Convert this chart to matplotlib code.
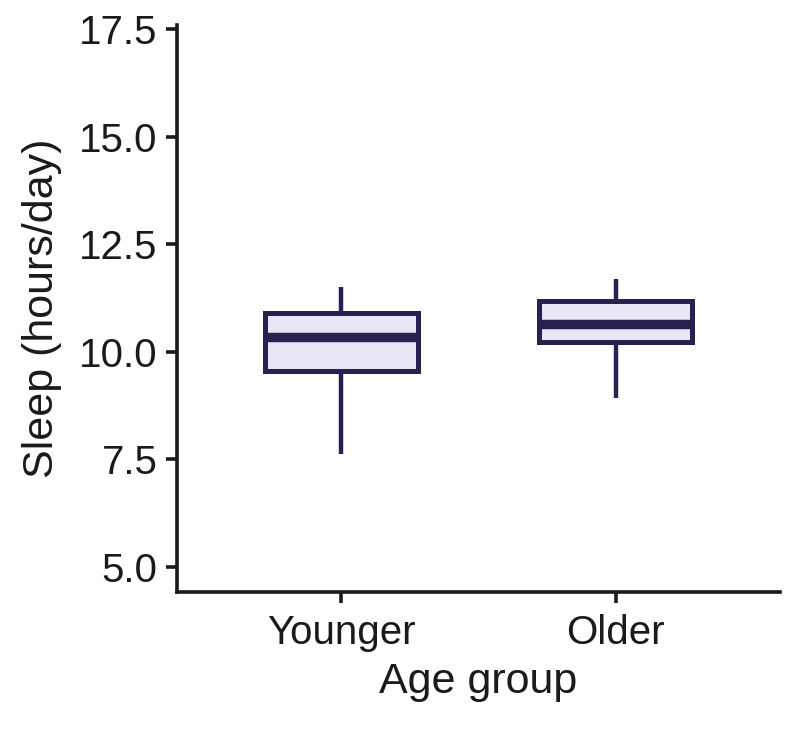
import matplotlib
matplotlib.use("Agg")
import matplotlib.pyplot as plt

plt.rcParams["font.family"] = ["Liberation Sans", "DejaVu Sans"]

groups = ["Younger", "Older"]
whislo = [7.61, 8.93]
q1 = [9.56, 10.23]
med = [10.35, 10.64]
q3 = [10.89, 11.18]
whishi = [11.51, 11.70]

edge = "#26214f"
fill = "#e8e5f4"

stats = [
    {"label": g, "whislo": lo, "q1": a, "med": m, "q3": b, "whishi": hi}
    for g, lo, a, m, b, hi in zip(groups, whislo, q1, med, q3, whishi)
]

fig = plt.figure(figsize=(4.03, 3.645), dpi=200)
ax = fig.add_axes([177 / 806, 1 - 592 / 729, (780 - 177) / 806, (592 - 25) / 729])

ax.bxp(stats, positions=[0, 1], widths=0.56, showcaps=False, showfliers=False,
       patch_artist=True,
       boxprops=dict(facecolor=fill, edgecolor=edge, linewidth=1.8),
       medianprops=dict(color=edge, linewidth=3.4, solid_capstyle="butt"),
       whiskerprops=dict(color=edge, linewidth=1.6, solid_capstyle="butt"))

ax.set_xlim(-0.6, 1.6)
ax.set_ylim(4.41, 17.6)
ax.set_yticks([5.0, 7.5, 10.0, 12.5, 15.0, 17.5])
ax.set_yticklabels(["5.0", "7.5", "10.0", "12.5", "15.0", "17.5"])
ax.set_xticks([0, 1])
ax.set_xticklabels(groups)

for s in ["top", "right"]:
    ax.spines[s].set_visible(False)
for s in ["left", "bottom"]:
    ax.spines[s].set_linewidth(1.3)
    ax.spines[s].set_color("#1a1a1a")
ax.tick_params(axis="both", length=4, width=1.3, labelsize=14.5, colors="#1a1a1a", pad=3)
ax.tick_params(axis="x", pad=4)

ax.set_xlabel("Age group", fontsize=15.5, color="#1a1a1a", labelpad=3.5)
ax.set_ylabel("Sleep (hours/day)", fontsize=15.5, color="#1a1a1a", labelpad=6)

fig.savefig("out.png", dpi=200)
